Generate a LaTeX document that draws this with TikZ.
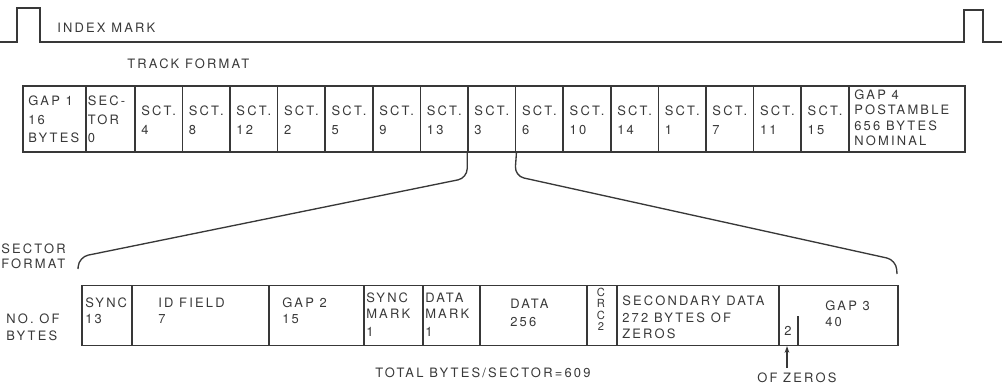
\documentclass[tikz,border=0pt]{standalone}
\usepackage{fontspec}
\setmainfont{TeX Gyre Heros}[LetterSpace=17]
\usetikzlibrary{arrows.meta}

% lines of a cell, baseline of the node on the first line
\newcommand{\cellstack}[2][l]{\begin{tabular}[t]{@{}#1@{}}#2\end{tabular}}

\colorlet{ink}{black!78}
\tikzset{
  cell/.style={draw=ink, line width=1.2pt, anchor=north west, inner sep=0pt},
  trackcell/.style={cell, minimum height=49.5pt},
  sectcell/.style={cell, minimum height=45pt},
  txt/.style={anchor=base west, inner sep=0pt, text=ink},
  fan/.style={draw=ink, line width=1pt, rounded corners=7pt},
}

\begin{document}
\begin{tikzpicture}[x=0.75pt, y=-0.75pt, font=\fontsize{9.7}{14}\selectfont]
    \useasboundingbox (0,0) rectangle (1002,388);

    % Index mark
    \draw[ink, line width=1pt] (0,42) -- (17,42) -- (17,8) -- (40,8) -- (40,42)
        -- (964,42) -- (964,10) -- (983,10) -- (983,42) -- (1002,42);
    \node[txt] (index) at (57,33) {INDEX MARK};
    \node[txt] (trackfmt) at (127,69) {TRACK FORMAT};

    % Track format
    \node[trackcell, minimum width=47.25pt] (gap1) at (22,85.5) {};
    \node[txt] (lgap1) at ([shift={(6,20)}]gap1.north west) {\cellstack{GAP 1\\16\\BYTES}};
    \node[trackcell, minimum width=36.75pt] (sec0) at (85,85.5) {};
    \node[txt] (lsec0) at ([shift={(2.5,20)}]sec0.north west) {\cellstack{SEC-\\TOR\\0}};
    \foreach \s [count=\i from 0] in {4,8,12,2,5,9,13,3,6,10,14,1,7,11,15} {
        \node[trackcell, minimum width=35.7pt] (s\s) at (134+47.6*\i,85.5) {};
        \node[txt] (ls\s) at ([shift={(7,30)}]s\s.north west) {\cellstack{SCT.\\\s}};
    }
    \node[trackcell, minimum width=87pt] (gap4) at (848,85.5) {};
    \node[txt, font=\fontsize{9.7}{11.6}\selectfont] (lgap4) at ([shift={(6,14)}]gap4.north west)
        {\cellstack{GAP 4\\POSTAMBLE\\656 BYTES\\NOMINAL}};

    % Fan out of sector 3
    \coordinate (fl) at (78,269);
    \coordinate (fr) at (897,274);
    \draw[fan] (s3.south west) -- (467.2,178) -- (79,257) -- (fl);
    \draw[fan] (s3.south east) -- (514.8,176) -- (896,260) -- (fr);

    % Sector format
    \node[txt, font=\fontsize{9.7}{11.25}\selectfont] (sectfmt) at (1,253) {\cellstack{SECTOR\\FORMAT}};
    \node[txt, font=\fontsize{9.7}{12.75}\selectfont] (nobytes) at (6,323) {\cellstack{NO. OF\\BYTES}};

    \node[sectcell, minimum width=37.5pt] (sync) at (81,284.5) {};
    \node[txt, font=\fontsize{9.7}{12}\selectfont] (lsync) at (85,307) {\cellstack{SYNC\\13}};
    \node[sectcell, minimum width=102.75pt] (idf) at (131,284.5) {};
    \node[txt, font=\fontsize{9.7}{12}\selectfont] (lidf) at (158,307) {\cellstack{ID FIELD\\7}};
    \node[sectcell, minimum width=71.25pt] (gap2) at (268,284.5) {};
    \node[txt, font=\fontsize{9.7}{12}\selectfont] (lgap2) at (282,307) {\cellstack{GAP 2\\15}};
    \node[sectcell, minimum width=44.25pt] (smark) at (363,284.5) {};
    \node[txt, font=\fontsize{9.7}{12}\selectfont] (lsmark) at (366,302) {\cellstack{SYNC\\MARK\\[2.2pt]1}};
    \node[sectcell, minimum width=42.75pt] (dmark) at (422,284.5) {};
    \node[txt, font=\fontsize{9.7}{12}\selectfont] (ldmark) at (425,302) {\cellstack{DATA\\MARK\\[2.2pt]1}};
    \node[sectcell, minimum width=80.25pt] (data) at (479,284.5) {};
    \node[txt, font=\fontsize{9.7}{13.5}\selectfont] (ldata) at (510,308.5) {\cellstack{DATA\\256}};
    \node[sectcell, minimum width=22.5pt] (crc) at (586,284.5) {};
    \node[txt, anchor=base, font=\fontsize{8.4}{8.6}\selectfont] (lcrc) at (601,296) {\cellstack[c]{C\\R\\C\\2}};
    \node[sectcell, minimum width=121.5pt] (sdata) at (616,284.5) {};
    \node[txt, font=\fontsize{9.7}{12.4}\selectfont] (lsdata) at (622,305.5)
        {\cellstack{SECONDARY DATA\\272 BYTES OF\\ZEROS}};
    \node[sectcell, minimum width=89.25pt] (gap3) at (778,284.5) {};
    \node[txt, font=\fontsize{9.7}{12}\selectfont] (lgap3) at (825,310.5) {\cellstack{GAP 3\\40}};
    \node[txt] (two) at (784,335.5) {2};
    \coordinate (tick) at (798,316);
    \draw[ink, line width=1pt] (tick) -- (tick |- gap3.south);

    % Totals
    \node[txt] (total) at (375,377) {TOTAL BYTES/SECTOR=609};
    \node[txt] (ofz) at (757,382) {OF ZEROS};
    \draw[ink, line width=1pt, -{Stealth[length=5pt, width=3.5pt]}]
        (787,368) coordinate (arr) -- (arr |- gap3.south);
\end{tikzpicture}
\end{document}
